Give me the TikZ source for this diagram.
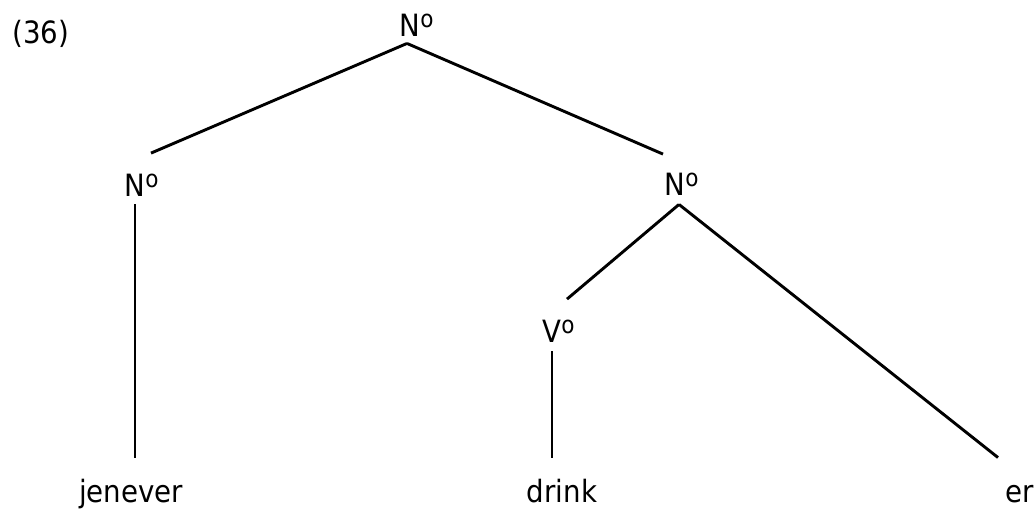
\documentclass[tikz,border=0pt]{standalone}
\usepackage{fontspec}
\setmainfont{DejaVu Sans Condensed}
\newcommand{\barlevel}[1]{#1\rlap{\raisebox{9pt}{\fontsize{24}{24}\selectfont o}}}

\begin{document}
\begin{tikzpicture}[x=1pt,y=-1pt,line width=2.9pt,
            every node/.style={inner sep=0pt,anchor=base,font=\fontsize{30.7}{36}\selectfont},
            leaf/.style={text height=24pt,text depth=7pt}]
            \useasboundingbox(0,0)rectangle(1035,510);
            \node(ex)at(41,44){(36)};
            % category labels
            \node(top)at(410,37){\barlevel{N}};
            \node(nleft)at(135,197){\barlevel{N}};
            \node(nright)at(675,196){\barlevel{N}};
            \node(verb)at(552,342){\barlevel{V}};
            % words
            \node[leaf](jenever)at(131,502){jenever};
            \node[leaf](drink)at(562,502){drink};
            \node[leaf](er)at(1020,502){er};
            % branches
            \draw([xshift=-3pt,yshift=-5pt]top.south)--([xshift=16pt,yshift=20pt]nleft.north);
            \draw([xshift=-3pt,yshift=-5pt]top.south)--([xshift=-12pt,yshift=18pt]nright.north);
            \draw([xshift=4pt,yshift=-7pt]nright.south)--([xshift=15pt,yshift=19pt]verb.north);
            \draw([xshift=4pt,yshift=-7pt]nright.south)--([xshift=-22pt,yshift=19pt]er.north);
            \draw[shorten <=6pt,shorten >=19pt](nleft.south)--(nleft.south|-jenever.north);
            \draw[shorten <=8pt,shorten >=19pt](verb.south)--(verb.south|-drink.north);
          \end{tikzpicture}
\end{document}
